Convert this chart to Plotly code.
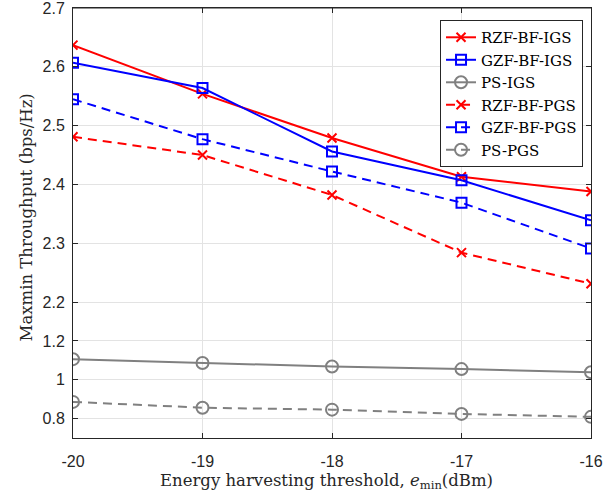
import plotly.graph_objects as go

x_vals = [-20, -19, -18, -17, -16]

rzf_igs = [2.637, 2.554, 2.479, 2.413, 2.388]
gzf_igs = [2.607, 2.564, 2.456, 2.407, 2.339]
ps_igs = [1.106, 1.086, 1.068, 1.055, 1.039]
rzf_pgs = [2.481, 2.450, 2.382, 2.284, 2.231]
gzf_pgs = [2.545, 2.477, 2.422, 2.369, 2.291]
ps_pgs = [0.886, 0.856, 0.846, 0.824, 0.809]

top_ticks = [2.2, 2.3, 2.4, 2.5, 2.6, 2.7]
top_labels = ["2.2", "2.3", "2.4", "2.5", "2.6", "2.7"]
low_ticks = [0.8, 1.0, 1.2]
low_labels = ["0.8", "1", "1.2"]
x_labels = ["-20", "-19", "-18", "-17", "-16"]

RED = "#ff0000"
BLUE = "#0000ff"
GRAY = "#808080"
DASH = "9px,6px"
AX = "#262626"
GRID = "#e3e3e3"
SERIF = "DejaVu Serif, Liberation Serif, serif"

fig = go.Figure()

def add(name, y, color, symbol, dash, xaxis, yaxis, size):
    fig.add_trace(go.Scatter(
        x=x_vals, y=y, name=name, mode="lines+markers",
        xaxis=xaxis, yaxis=yaxis,
        line=dict(color=color, width=2, dash=dash),
        marker=dict(symbol=symbol, size=size, color=color,
                    line=dict(color=color, width=2)),
    ))

add("RZF-BF-IGS", rzf_igs, RED, "x-thin", "solid", "x2", "y", 9)
add("GZF-BF-IGS", gzf_igs, BLUE, "square-open", "solid", "x2", "y", 10)
add("PS-IGS", ps_igs, GRAY, "circle-open", "solid", "x", "y2", 12)
add("RZF-BF-PGS", rzf_pgs, RED, "x-thin", DASH, "x2", "y", 9)
add("GZF-BF-PGS", gzf_pgs, BLUE, "square-open", DASH, "x2", "y", 10)
add("PS-PGS", ps_pgs, GRAY, "circle-open", DASH, "x", "y2", 12)

split = 0.2709
tickfont = dict(family="Liberation Sans, Arial", size=16, color=AX)

common_y = dict(showline=True, linecolor=AX, linewidth=1, mirror="ticks",
                ticks="inside", ticklen=5, tickcolor=AX, showgrid=True,
                gridcolor=GRID, gridwidth=1, zeroline=False, tickfont=tickfont,
                ticklabelstandoff=4, ticklabeloverflow="allow")

fig.update_layout(
    width=615, height=494,
    margin=dict(l=73, r=24, t=8, b=56, autoexpand=False),
    paper_bgcolor="white", plot_bgcolor="white",
    showlegend=True,
    legend=dict(x=0.9846, y=0.972, xanchor="right", yanchor="top",
                bgcolor="white", bordercolor=AX, borderwidth=1,
                font=dict(family=SERIF, size=15, color="black"),
                tracegroupgap=0),
    xaxis=dict(domain=[0, 1], anchor="y2", range=[-20, -16],
               tickvals=x_vals, ticktext=x_labels,
               showline=True, linecolor=AX, linewidth=1,
               ticks="inside", ticklen=5, tickcolor=AX,
               showgrid=True, gridcolor=GRID, zeroline=False,
               tickfont=tickfont, ticklabelstandoff=9,
               ticklabeloverflow="allow"),
    xaxis2=dict(domain=[0, 1], anchor="y", side="top", matches="x",
                range=[-20, -16], tickvals=x_vals,
                showline=True, linecolor=AX, linewidth=1,
                ticks="inside", ticklen=5, tickcolor=AX, showticklabels=False,
                showgrid=True, gridcolor=GRID, zeroline=False),
    yaxis=dict(domain=[split, 1], anchor="x2", range=[2.1668, 2.7001],
               tickvals=top_ticks, ticktext=top_labels, **common_y),
    yaxis2=dict(domain=[0, split], anchor="x", range=[0.7, 1.3],
                tickvals=low_ticks, ticktext=low_labels, **common_y),
)

# top border of the axes box
fig.add_shape(type="line", xref="paper", yref="paper", x0=0, x1=1, y0=1, y1=1,
              line=dict(color=AX, width=1), layer="above")

fig.add_annotation(text="Maxmin Throughput (bps/Hz)", xref="paper", yref="paper",
                   x=-0.0898, y=0.514, xanchor="center", yanchor="middle",
                   textangle=-90, showarrow=False,
                   font=dict(family=SERIF, size=16.5, color=AX))
fig.add_annotation(text="Energy harvesting threshold, <i>e</i><sub>min</sub>(dBm)",
                   xref="paper", yref="paper",
                   x=0.49, y=-0.102, xanchor="center", yanchor="middle",
                   showarrow=False,
                   font=dict(family=SERIF, size=16.5, color=AX))

fig.write_html("out.html", config={"displayModeBar": False},
               post_script="document.body.style.margin='0';")
